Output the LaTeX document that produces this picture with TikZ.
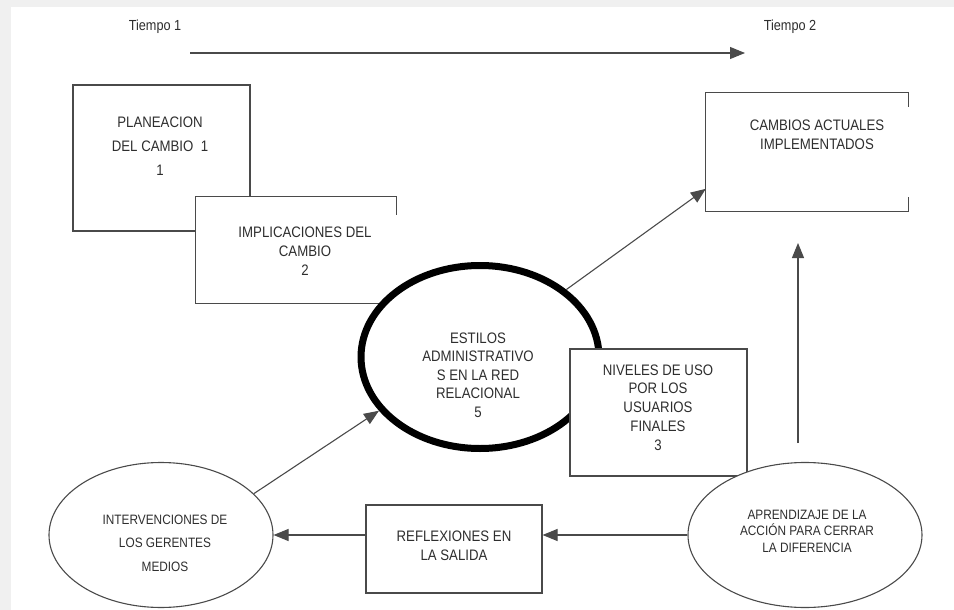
\documentclass[tikz,border=0pt]{standalone}
\usepackage{fontspec}
\setmainfont[FakeStretch=0.87]{Liberation Sans}
\usetikzlibrary{shapes.geometric,arrows.meta}

\definecolor{ink}{HTML}{2E2E2E}
\definecolor{edge}{HTML}{4A4A4A}
\definecolor{margin}{HTML}{F0F0F0}

\begin{document}
\begin{tikzpicture}[x=1pt,y=-1pt,
  edgeline/.style={draw=edge, line width=1.1pt},
  box/.style={rectangle, edgeline, fill=white, inner sep=0pt},
  panel/.style={rectangle, fill=white, inner sep=0pt},
  oval/.style={ellipse, edgeline, fill=white, inner sep=0pt},
  hub/.style={ellipse, draw=black, line width=7pt, fill=white, inner sep=0pt},
  txt/.style 2 args={text=ink, align=center, inner sep=0pt,
    font=\fontsize{#1}{#2}\selectfont},
  arr/.style={edgeline, -{Triangle[length=15pt,width=12pt]}}
]
% page and its grey margins
\useasboundingbox (0,0) rectangle (954,610);
\fill[white] (0,0) rectangle (954,610);
\fill[margin] (0,0) rectangle (954,7);
\fill[margin] (0,0) rectangle (11,610);

% time axis
\node[txt={14.6}{16}] (tiempo1) at (155,27) {Tiempo 1};
\node[txt={14.6}{16}] (tiempo2) at (790,27) {Tiempo 2};
\coordinate (axisstart) at (190,53);
\coordinate (axisend) at (745,53);
\draw[arr] (axisstart) -- (axisend);

% planning boxes, the second one open on its right side
\node[box, minimum width=177pt, minimum height=146pt] (plan) at (161.5,158) {};
\node[panel, minimum width=200pt, minimum height=106pt] (impl) at (296,250) {};
\draw[edgeline] ([yshift=-18pt]impl.north east) -- (impl.north east)
  -- (impl.north west) -- (impl.south west) -- (impl.south east);

% central management styles
\node[hub, minimum width=238pt, minimum height=183pt] (estilos) at (480,357) {};

% remaining boxes
\node[box, minimum width=177pt, minimum height=127pt] (niveles) at (658.5,412.5) {};
\node[panel, minimum width=202pt, minimum height=118pt] (cambios) at (807,152) {};
\draw[edgeline] ([yshift=-14pt]cambios.north east) -- (cambios.north east)
  -- (cambios.north west) -- (cambios.south west) -- (cambios.south east)
  -- ([yshift=14pt]cambios.south east);
\node[box, minimum width=176pt, minimum height=88pt] (reflex) at (454,549) {};

% ovals
\node[oval, minimum width=224pt, minimum height=145pt] (interv) at (161,535) {};
\node[oval, minimum width=234pt, minimum height=145pt] (aprend) at (805,535) {};

% labels
\node[txt={15.2}{24}] (plantxt) at (160,146) {PLANEACION\\DEL CAMBIO~ 1\\1};
\node[txt={15.2}{19}] (impltxt) at (305,251) {IMPLICACIONES DEL\\CAMBIO\\2};
\node[txt={15.2}{19}] (cambiostxt) at (817,134.5) {CAMBIOS ACTUALES\\IMPLEMENTADOS};
\node[txt={15.2}{18.5}] (estilostxt) at (478,375) {ESTILOS\\ADMINISTRATIVO\\S EN LA RED\\RELACIONAL\\5};
\node[txt={15.2}{18.75}] (nivelestxt) at (658,407.5) {NIVELES DE USO\\POR LOS\\USUARIOS\\FINALES\\3};
\node[txt={15.2}{19}] (reflextxt) at (454,545.5) {REFLEXIONES EN\\LA SALIDA};
\node[txt={13.6}{23.5}] (intervtxt) at (165,543) {INTERVENCIONES DE\\LOS GERENTES\\MEDIOS};
\node[txt={13.6}{16.5}] (aprendtxt) at (807,531) {APRENDIZAJE DE LA\\ACCIÓN PARA CERRAR\\LA DIFERENCIA};

% connectors
\draw[arr] (estilos.38) -- (cambios.200.6);
\draw[arr] (interv.24.5) -- (estilos.208.5);
\draw[arr] (aprend.west) -- (aprend.west -| reflex.east);
\draw[arr] (reflex.west |- interv.east) -- (interv.east);
\coordinate (risefrom) at (798,443);
\coordinate (riseto) at (798,243);
\draw[arr] (risefrom) -- (riseto);
\end{tikzpicture}
\end{document}
